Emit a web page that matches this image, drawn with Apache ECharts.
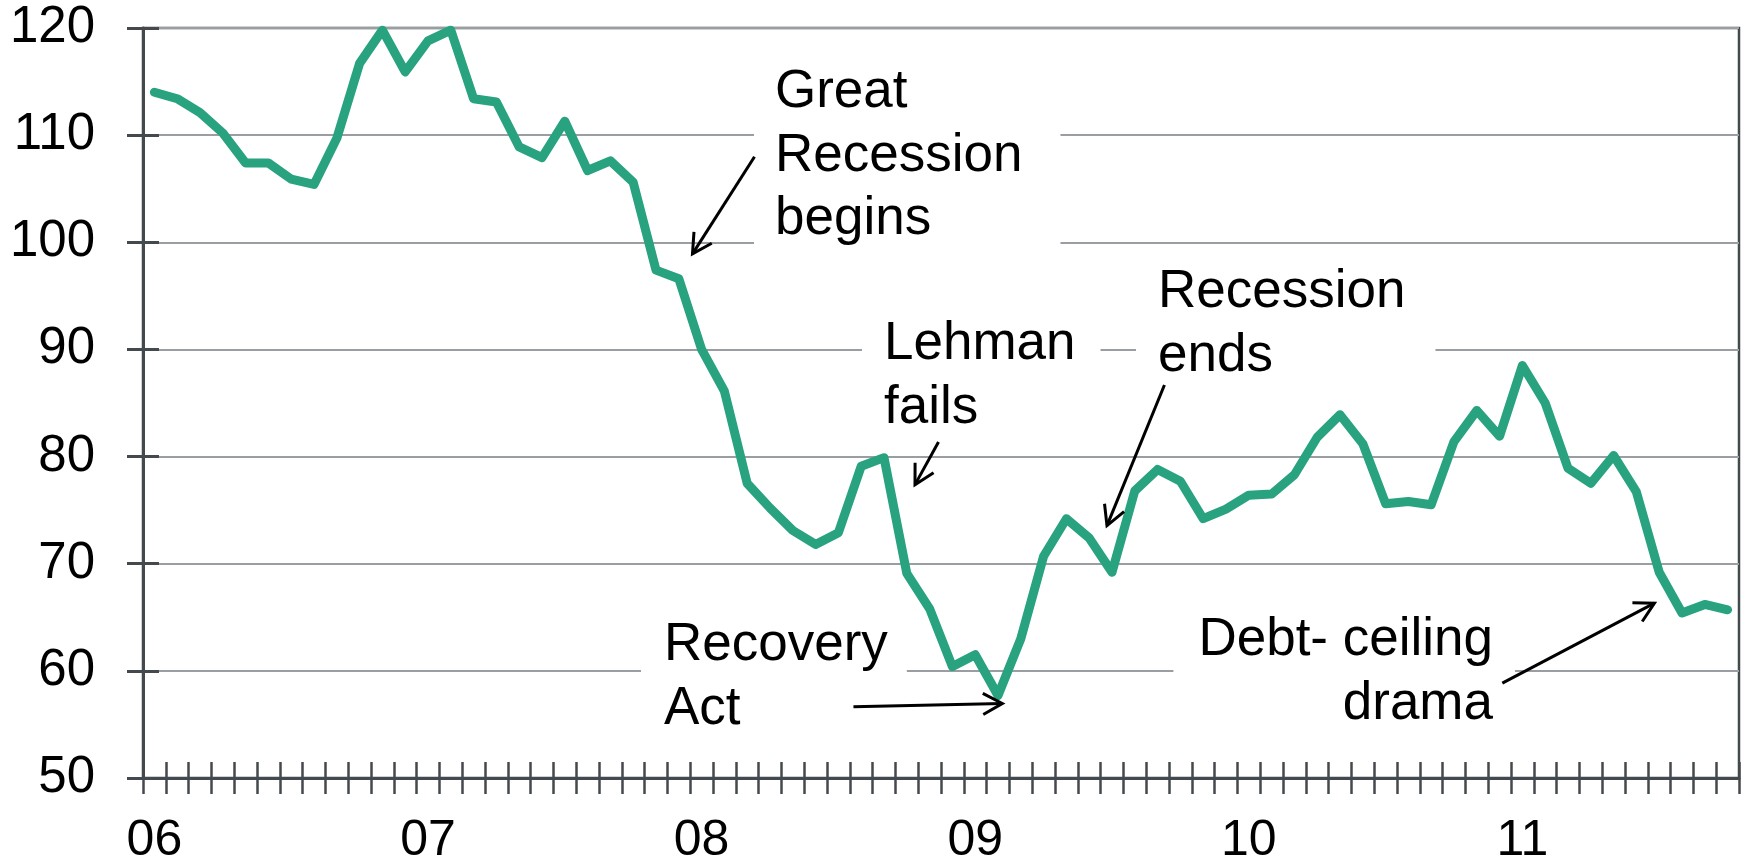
<!DOCTYPE html>
<html>
<head>
<meta charset="utf-8">
<script src="https://cdn.jsdelivr.net/npm/echarts@6/dist/echarts.min.js"></script>
<style>
  html, body { margin: 0; padding: 0; background: #fff; }
  #chart { width: 1746px; height: 862px; }
</style>
</head>
<body>
<div id="chart"></div>
<script>
// year tick labels, one per January
var yearLabels = ['06', '07', '08', '09', '10', '11'];

// monthly index, Jan 2006 .. Oct 2011
var values = [
  114.0, 113.4, 112.1, 110.2, 107.4, 107.4, 105.9, 105.4, 109.7, 116.7,
  119.8, 115.9, 118.8, 119.8, 113.4, 113.1, 108.9, 107.9, 111.3, 106.7,
  107.6, 105.6, 97.4, 96.6, 90.0, 86.1, 77.5, 75.2, 73.1, 71.8,
  72.9, 79.1, 79.9, 69.1, 65.8, 60.4, 61.5, 57.7, 63.0, 70.7,
  74.2, 72.4, 69.2, 76.8, 78.8, 77.7, 74.2, 75.1, 76.4, 76.5,
  78.3, 81.8, 83.9, 81.2, 75.6, 75.8, 75.5, 81.4, 84.3, 81.9,
  88.5, 85.0, 78.9, 77.5, 80.1, 76.7, 69.2, 65.4, 66.2, 65.7
];

var months = [];
for (var y = 0; y < yearLabels.length; y++) {
  for (var m = 1; m <= 12; m++) {
    months.push(yearLabels[y] + '-' + (m < 10 ? '0' + m : m));
  }
}
months = months.slice(0, values.length);

// annotation arrows: [fromMonth, fromValue, toMonth, toValue] (month index, may be fractional)
var arrows = [
  [26.32, 107.98, 23.60, 98.92],
  [34.39, 81.36, 33.36, 77.38],
  [44.30, 86.68, 41.78, 73.56],
  [30.66, 56.65, 37.19, 56.95],
  [59.12, 58.85, 65.79, 66.32]
];

var notes = [
  { text: 'Great\nRecession\nbegins', x: 754, y: 50, align: 'left', pad: [11, 38, 6, 21] },
  { text: 'Lehman\nfails', x: 862, y: 303, align: 'left', pad: [10, 25, 5, 22] },
  { text: 'Recession\nends', x: 1136, y: 253, align: 'left', pad: [8, 30, 5, 22] },
  { text: 'Recovery\nAct', x: 641, y: 604, align: 'left', pad: [10, 19, 6, 23] },
  { text: 'Debt- ceiling\ndrama', x: 1515, y: 600, align: 'right', pad: [9, 22, 6, 25] }
];

var dark = '#44494e';
var font = '"Liberation Sans", Arial, sans-serif';

var chart = echarts.init(document.getElementById('chart'));

chart.setOption({
  animation: false,
  backgroundColor: '#fff',
  grid: {
    left: 143, right: 7, top: 28, bottom: 84,
    show: true, borderColor: dark, borderWidth: 2.5,
    outerBoundsMode: 'none'
  },
  xAxis: [{
    type: 'category',
    data: months,
    boundaryGap: true,
    axisLine: { onZero: false, lineStyle: { color: dark, width: 3 } },
    axisTick: { show: true, interval: 0, length: 16, lineStyle: { color: dark, width: 2.5 } },
    axisLabel: {
      interval: function (index) { return index % 12 === 0; },
      formatter: function (v) { return v.split('-')[0]; },
      fontSize: 50, fontFamily: font, color: '#000', margin: 38
    },
    splitLine: { show: false }
  }, {
    type: 'category',
    data: months,
    position: 'bottom',
    boundaryGap: true,
    axisLine: { show: false, onZero: false },
    axisTick: { show: true, inside: true, interval: 0, length: 16, lineStyle: { color: dark, width: 2.5 } },
    axisLabel: { show: false },
    splitLine: { show: false }
  }, {
    type: 'value',
    show: false,
    min: -0.5,
    max: 69.5,
    axisLine: { onZero: false },
    splitLine: { show: false }
  }],
  yAxis: [{
    type: 'value',
    min: 50, max: 120, interval: 10,
    axisLine: { show: true, onZero: false, lineStyle: { color: dark, width: 3 } },
    axisTick: { show: true, length: 16, lineStyle: { color: dark, width: 3 } },
    axisLabel: { fontSize: 51, fontFamily: font, color: '#000', margin: 48 },
    splitLine: { show: true, lineStyle: { color: '#9a9ea3', width: 2 } }
  }, {
    type: 'value',
    position: 'left',
    min: 50, max: 120, interval: 10,
    axisLine: { show: false, onZero: false },
    axisTick: { show: true, inside: true, length: 16, lineStyle: { color: dark, width: 3 } },
    axisLabel: { show: false },
    splitLine: { show: false }
  }],
  graphic: notes.map(function (n) {
    return {
      type: 'text',
      z: 1,
      style: {
        text: n.text,
        x: n.x,
        y: n.y,
        font: '53px ' + font,
        fill: '#000',
        align: n.align,
        verticalAlign: 'top',
        lineHeight: 63.5,
        backgroundColor: '#fff',
        padding: n.pad
      }
    };
  }),
  series: [{
    type: 'line',
    xAxisIndex: 0,
    yAxisIndex: 0,
    data: values,
    symbol: 'none',
    z: 3,
    lineStyle: { color: '#28a27f', width: 9, cap: 'round', join: 'round' }
  }, {
    type: 'custom',
    xAxisIndex: 2,
    yAxisIndex: 0,
    data: arrows,
    clip: false,
    z: 4,
    encode: { x: [0, 2], y: [1, 3] },
    renderItem: function (params, api) {
      var p1 = api.coord([api.value(0), api.value(1)]);
      var p2 = api.coord([api.value(2), api.value(3)]);
      var ang = Math.atan2(p2[1] - p1[1], p2[0] - p1[0]);
      var len = 22, spread = 0.5;
      var h1 = [p2[0] - len * Math.cos(ang - spread), p2[1] - len * Math.sin(ang - spread)];
      var h2 = [p2[0] - len * Math.cos(ang + spread), p2[1] - len * Math.sin(ang + spread)];
      return {
        type: 'group',
        children: [{
          type: 'line',
          shape: { x1: p1[0], y1: p1[1], x2: p2[0], y2: p2[1] },
          style: { stroke: '#000', lineWidth: 3 }
        }, {
          type: 'polyline',
          shape: { points: [h1, p2, h2] },
          style: { stroke: '#000', lineWidth: 3, fill: null }
        }]
      };
    }
  }]
});
</script>
</body>
</html>
